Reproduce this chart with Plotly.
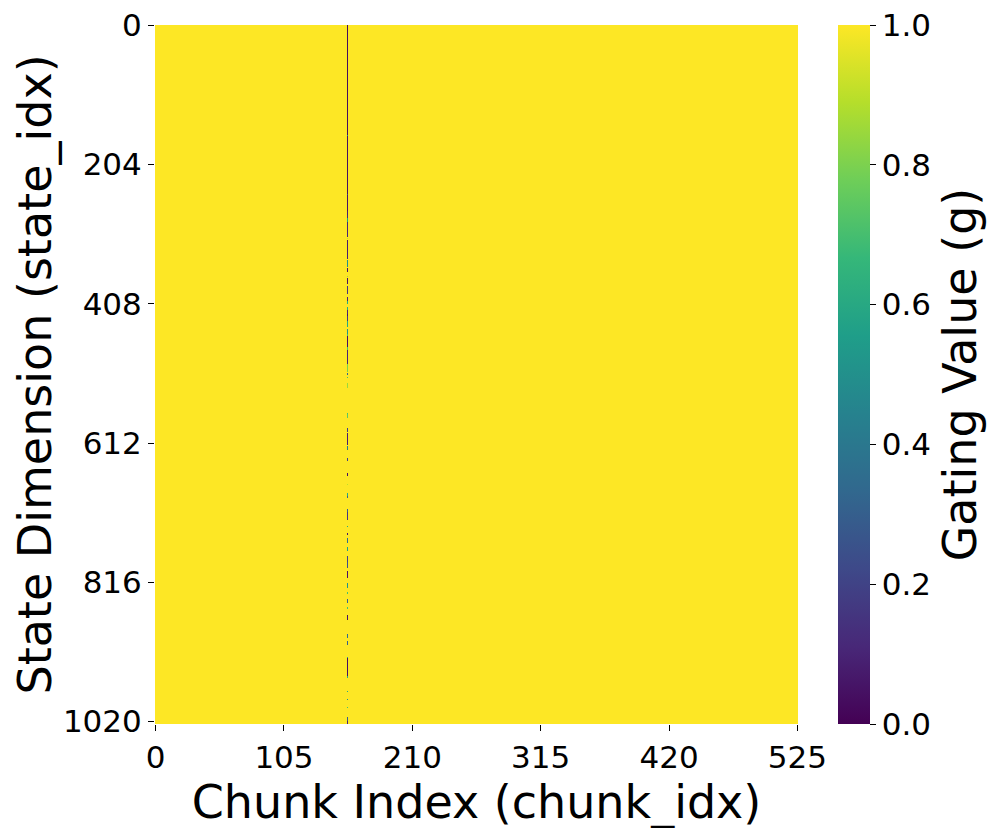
import numpy as np
import plotly.graph_objects as go

# ---- data ----
n_chunks = 526
n_states = 1024
gated_chunk = 157          # the only chunk whose gating deviates from 1.0

# run-length segments along the state dimension of the gated chunk
# (start row, end row inclusive, gating value); rows not listed are 1.0
seg_start = [0, 161, 162, 248, 249, 272, 273, 278, 279, 283, 289, 312, 315, 344, 356, 368,
             371, 383, 398, 405, 413, 418, 423, 427, 434, 446, 453, 456, 471, 476, 497, 510,
             515, 525, 569, 570, 590, 597, 617, 634, 656, 663, 673, 685, 690, 709, 714, 734,
             744, 751, 765, 778, 787, 800, 817, 831, 841, 853, 865, 892, 902, 926, 928, 954,
             975, 987, 999, 1014, 1020]
seg_end   = [160, 161, 247, 248, 271, 272, 277, 278, 282, 288, 310, 312, 342, 354, 361, 368,
             378, 393, 404, 408, 417, 422, 430, 433, 441, 451, 455, 470, 475, 496, 507, 511,
             516, 531, 569, 575, 595, 614, 621, 638, 660, 663, 673, 689, 692, 717, 724, 735,
             746, 758, 770, 785, 795, 809, 824, 832, 846, 854, 870, 897, 907, 927, 953, 956,
             976, 988, 1000, 1019, 1023]
seg_value = [0.03, 0.5, 0.04, 0.2, 0.05, 0.5, 0.08, 0.7, 0.1, 0.55, 0.1, 0.9, 0.08, 0.5, 0.05, 0.85,
             0.05, 0.15, 0.1, 0.6, 0.6, 0.1, 0.05, 0.15, 0.6, 0.5, 0.7, 0.04, 0.7, 0.1, 0.8, 0.3,
             0.7, 0.85, 0.7, 0.75, 0.2, 0.08, 0.4, 0.2, 0.04, 0.8, 0.9, 0.6, 0.3, 0.3, 0.15, 0.6,
             0.05, 0.35, 0.55, 0.2, 0.25, 0.05, 0.5, 0.7, 0.3, 0.7, 0.05, 0.35, 0.3, 0.6, 0.04, 0.6,
             0.6, 0.5, 0.7, 0.3, 0.1]

x_tick_labels = [0, 105, 210, 315, 420, 525]
y_tick_labels = [0, 204, 408, 612, 816, 1020]
cbar_ticks = [0.0, 0.2, 0.4, 0.6, 0.8, 1.0]

# ---- build grid: three column blocks (before, gated chunk, after) ----
col = np.ones(n_states)
for s, e, v in zip(seg_start, seg_end, seg_value):
    col[s:e + 1] = v
z = np.column_stack([np.ones(n_states), col, np.ones(n_states)])
x_edges = [0, gated_chunk, gated_chunk + 1, n_chunks]
y_edges = list(range(n_states + 1))

FONT = "DejaVu Sans"

fig = go.Figure(go.Heatmap(
    z=z, x=x_edges, y=y_edges,
    colorscale="Viridis", zmin=0, zmax=1,
    colorbar=dict(
        x=(838 - 155) / 643, xanchor="left", xref="paper",
        y=0.5, yanchor="middle", len=1.0, lenmode="fraction", ypad=0, xpad=0,
        thickness=32, outlinewidth=0,
        tickvals=cbar_ticks, ticktext=[f"{t:.1f}" for t in cbar_ticks],
        ticks="outside", ticklen=6, tickcolor="black",
        ticklabeloverflow="allow",
        tickfont=dict(family=FONT, size=31, color="black"),
        title=dict(text="Gating Value (g)", side="right",
                   font=dict(family=FONT, size=46, color="black")),
    ),
))

fig.update_layout(
    width=997, height=828,
    margin=dict(l=147, r=207, t=17, b=112, autoexpand=False),
    paper_bgcolor="white", plot_bgcolor="white",
    font=dict(family=FONT, color="black"),
)
fig.update_xaxes(
    range=[0, n_chunks], automargin=False, ticklabeloverflow="allow",
    tickvals=[t + 0.5 for t in x_tick_labels], ticktext=[str(t) for t in x_tick_labels],
    ticks="outside", ticklen=6, tickcolor="black", tickangle=0,
    tickfont=dict(family=FONT, size=31),
    showgrid=False, zeroline=False, showline=False,
    title=dict(text="Chunk Index (chunk_idx)", font=dict(family=FONT, size=46), standoff=0),
)
fig.update_yaxes(
    range=[n_states, 0], automargin=False, ticklabeloverflow="allow",
    tickvals=[t + 0.5 for t in y_tick_labels], ticktext=[str(t) for t in y_tick_labels],
    ticks="outside", ticklen=6, tickcolor="black",
    tickfont=dict(family=FONT, size=31),
    showgrid=False, zeroline=False, showline=False,
    title=dict(text="State Dimension (state_idx)", font=dict(family=FONT, size=46), standoff=4),
)

fig.write_html("out.html")
